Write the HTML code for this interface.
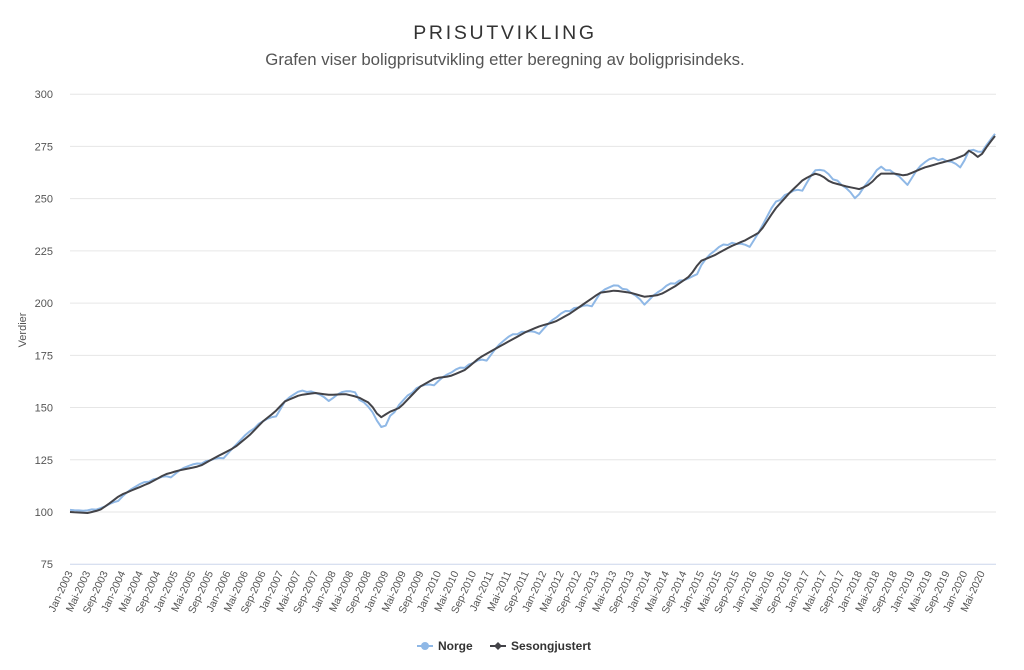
<!DOCTYPE html>
<html><head><meta charset="utf-8"><style>
html,body{margin:0;padding:0;background:#fff;}
svg{display:block;font-family:"Liberation Sans","DejaVu Sans",sans-serif;}
</style></head><body>
<svg id="c" width="1024" height="670" viewBox="0 0 1024 670" xmlns="http://www.w3.org/2000/svg">
<text x="505" y="39" text-anchor="middle" font-size="19.5" fill="#333" letter-spacing="2.7">PRISUTVIKLING</text>
<text x="505" y="65" text-anchor="middle" font-size="16.8" fill="#555">Grafen viser boligprisutvikling etter beregning av boligprisindeks.</text>
<text transform="translate(26,330) rotate(-90)" text-anchor="middle" font-size="11" fill="#555">Verdier</text>
<g id="grid"></g>
<g id="xl"></g>
<path id="pn" fill="none" stroke="#8fb8e6" stroke-width="2" stroke-linejoin="round"/>
<path id="ps" fill="none" stroke="#434348" stroke-width="2" stroke-linejoin="round"/>
<g font-size="12" font-weight="bold" fill="#333">
<line x1="417" y1="646" x2="433" y2="646" stroke="#8fb8e6" stroke-width="2"/><circle cx="425" cy="646" r="4" fill="#8fb8e6"/>
<text x="438" y="650">Norge</text>
<line x1="490" y1="646" x2="506" y2="646" stroke="#434348" stroke-width="2"/><path d="M498 642 L502 646 L498 650 L494 646Z" fill="#434348"/>
<text x="511" y="650">Sesongjustert</text>
</g>
</svg>
<script>
var NS="http://www.w3.org/2000/svg";
function Y(v){return 512-(v-100)*2.089;}
function X(i){return 70+i*4.385;}
var g=document.getElementById('grid');
for(var v=75;v<=300;v+=25){
 var l=document.createElementNS(NS,'line');l.setAttribute('x1',70);l.setAttribute('x2',996);
 l.setAttribute('y1',Y(v));l.setAttribute('y2',Y(v));l.setAttribute('stroke',v==75?'#ccd6eb':'#e6e6e6');l.setAttribute('stroke-width',1);g.appendChild(l);
 var t=document.createElementNS(NS,'text');t.setAttribute('x',53);t.setAttribute('y',Y(v)+4);t.setAttribute('text-anchor','end');t.setAttribute('font-size',11);t.setAttribute('fill','#555');t.textContent=v;g.appendChild(t);
}
var mn=['Jan','Mai','Sep'];var xl=document.getElementById('xl');
for(var k=0;k<=52;k++){
 var i=k*4,yr=2003+Math.floor(i/12),m=mn[(i%12)/4];
 var t=document.createElementNS(NS,'text');var x=X(i)+3;
 t.setAttribute('transform','translate('+x+',573) rotate(-65)');t.setAttribute('text-anchor','end');t.setAttribute('font-size',10.5);t.setAttribute('fill','#555');
 t.textContent=m+'-'+yr;xl.appendChild(t);
}
var A=[[70,100],[88,99.5],[100,101],[112,105],[120,108],[135,111],[150,114],[165,118],[180,120],[200,122],[215,126],[235,131],[250,137],[262,143],[275,148],[285,153],[300,156],[315,157],[330,156],[345,156.5],[358,155],[370,152],[380,145],[390,148],[400,150],[420,160],[435,164],[450,165],[465,168],[480,174],[495,178],[510,182],[525,186],[540,189],[555,191],[570,195],[585,200],[600,205],[615,206],[630,205],[645,203],[660,204],[675,208],[690,213],[700,220],[715,223],[730,227],[745,230],[760,234],[775,245],[790,253],[803,259],[815,262],[822,261],[830,258],[845,256],[860,254.5],[870,257],[880,262],[895,262],[905,261],[915,263],[925,265],[940,267],[955,269],[965,271],[971,274],[975,270],[980,270],[987,275],[995,280]];
function interp(x){for(var j=0;j<A.length-1;j++){if(x<=A[j+1][0]){var f=(x-A[j][0])/(A[j+1][0]-A[j][0]);return A[j][1]+f*(A[j+1][1]-A[j][1]);}}return A[A.length-1][1];}
var seas=[-1.5,0,1,1.5,2,2,1,1,0,-0.5,-1.5,-3];
var ds='',dn='';
for(var i=0;i<=211;i++){
 var x=X(i);if(x>995)x=995;var s=interp(x);
 var n=s+seas[i%12]*(s/160);
 if(i>=66&&i<=74)n-=(i==72?4:2);
 if(i<3)n=s+1;
 if(i>=208)n=s+1;
 ds+=(i?'L':'M')+x.toFixed(1)+' '+Y(s).toFixed(1);
 dn+=(i?'L':'M')+x.toFixed(1)+' '+Y(n).toFixed(1);
}
document.getElementById('ps').setAttribute('d',ds);
document.getElementById('pn').setAttribute('d',dn);
</script>
</body></html>
